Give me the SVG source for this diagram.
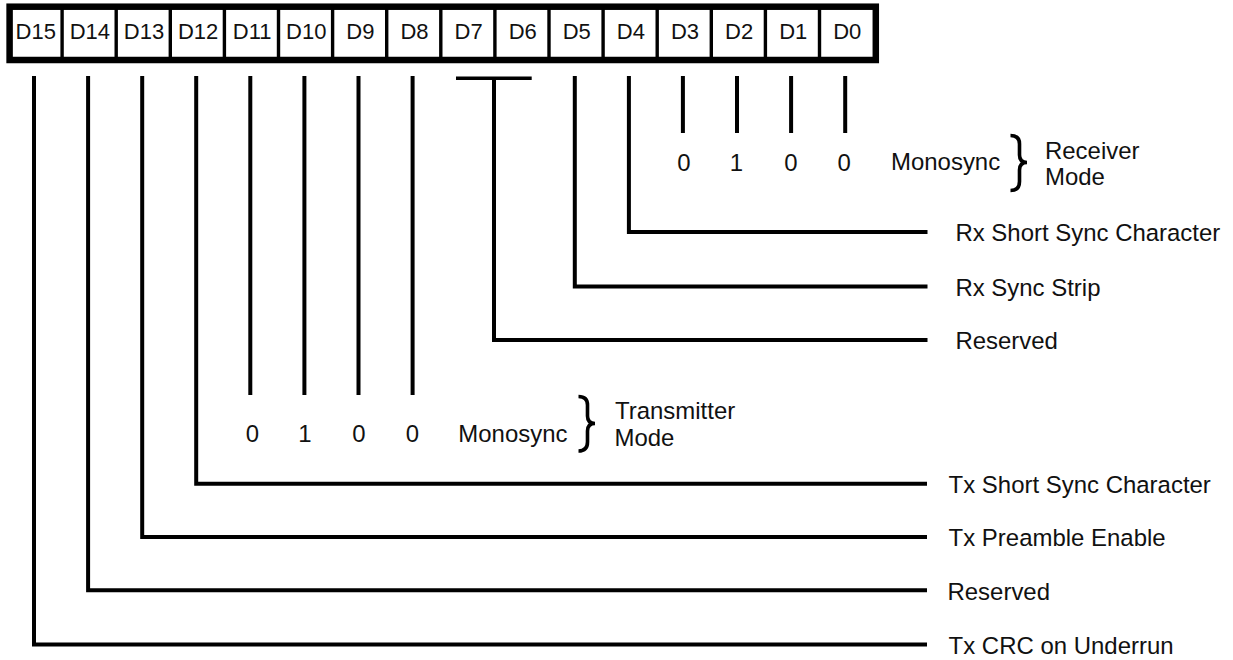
<svg xmlns="http://www.w3.org/2000/svg" width="1233" height="660" viewBox="0 0 1233 660">
<style>
text{font-family:"Liberation Sans",Arial,sans-serif;font-size:23.5px;fill:#111}
.cell text{text-anchor:middle;font-size:22px}
.mid{text-anchor:middle}
.div{stroke:#000;stroke-width:3.4}
.conn{fill:none;stroke:#000;stroke-width:4;stroke-linejoin:miter;stroke-linecap:butt}
.brace{fill:none;stroke:#000;stroke-width:3.6;stroke-linecap:butt}
</style>
<rect width="1233" height="660" fill="#fff"/>
<g id="register">
<rect x="9.6" y="6.7" width="866.2" height="53.3" fill="#fff" stroke="#000" stroke-width="6.5"/>
<g class="dividers">
<line class="div" x1="62.1" y1="8" x2="62.1" y2="58"/>
<line class="div" x1="116.2" y1="8" x2="116.2" y2="58"/>
<line class="div" x1="170.3" y1="8" x2="170.3" y2="58"/>
<line class="div" x1="224.4" y1="8" x2="224.4" y2="58"/>
<line class="div" x1="278.5" y1="8" x2="278.5" y2="58"/>
<line class="div" x1="332.6" y1="8" x2="332.6" y2="58"/>
<line class="div" x1="386.7" y1="8" x2="386.7" y2="58"/>
<line class="div" x1="440.8" y1="8" x2="440.8" y2="58"/>
<line class="div" x1="494.9" y1="8" x2="494.9" y2="58"/>
<line class="div" x1="549" y1="8" x2="549" y2="58"/>
<line class="div" x1="603.1" y1="8" x2="603.1" y2="58"/>
<line class="div" x1="657.2" y1="8" x2="657.2" y2="58"/>
<line class="div" x1="711.3" y1="8" x2="711.3" y2="58"/>
<line class="div" x1="765.4" y1="8" x2="765.4" y2="58"/>
<line class="div" x1="819.5" y1="8" x2="819.5" y2="58"/>
</g>
<g class="cell" id="cell-D15"><text x="35.8" y="38.7">D15</text></g>
<g class="cell" id="cell-D14"><text x="89.9" y="38.7">D14</text></g>
<g class="cell" id="cell-D13"><text x="144" y="38.7">D13</text></g>
<g class="cell" id="cell-D12"><text x="198.1" y="38.7">D12</text></g>
<g class="cell" id="cell-D11"><text x="252.2" y="38.7">D11</text></g>
<g class="cell" id="cell-D10"><text x="306.3" y="38.7">D10</text></g>
<g class="cell" id="cell-D9"><text x="360.4" y="38.7">D9</text></g>
<g class="cell" id="cell-D8"><text x="414.5" y="38.7">D8</text></g>
<g class="cell" id="cell-D7"><text x="468.6" y="38.7">D7</text></g>
<g class="cell" id="cell-D6"><text x="522.7" y="38.7">D6</text></g>
<g class="cell" id="cell-D5"><text x="576.8" y="38.7">D5</text></g>
<g class="cell" id="cell-D4"><text x="630.9" y="38.7">D4</text></g>
<g class="cell" id="cell-D3"><text x="685" y="38.7">D3</text></g>
<g class="cell" id="cell-D2"><text x="739.1" y="38.7">D2</text></g>
<g class="cell" id="cell-D1"><text x="793.2" y="38.7">D1</text></g>
<g class="cell" id="cell-D0"><text x="847.3" y="38.7">D0</text></g>
</g>
<g id="connectors">
<path class="conn" d="M682.9,76 V133"/>
<path class="conn" d="M737,76 V133"/>
<path class="conn" d="M791.1,76 V133"/>
<path class="conn" d="M845.2,76 V133"/>
<path class="conn" d="M628.9,76 V232 H927.5"/>
<path class="conn" d="M574.8,76 V286.5 H927.5"/>
<path class="conn" d="M456,78.3 H531.7" style="stroke-width:3.6"/>
<path class="conn" d="M494,78.3 V340 H927.5"/>
<path class="conn" d="M250.3,76 V395"/>
<path class="conn" d="M304.4,76 V395"/>
<path class="conn" d="M358.5,76 V395"/>
<path class="conn" d="M412.6,76 V395"/>
<path class="conn" d="M196.2,76 V483.7 H927"/>
<path class="conn" d="M142.2,76 V537 H927"/>
<path class="conn" d="M88.1,76 V590.3 H927"/>
<path class="conn" d="M34,76 V644.5 H927"/>
</g>
<g id="rx-mode">
<text class="mid" transform="translate(684,170.5) scale(1.02,1)">0</text>
<text class="mid" transform="translate(736.3,170.5) scale(1.02,1)">1</text>
<text class="mid" transform="translate(790.8,170.5) scale(1.02,1)">0</text>
<text class="mid" transform="translate(844.2,170.5) scale(1.02,1)">0</text>
<text transform="translate(891,169.5) scale(1.02,1)">Monosync</text>
<path class="brace" d="M1010.5,135.5 Q1019.5,135.5 1019.5,144 L1019.5,155 Q1019.5,162.5 1027,162.5 Q1019.5,162.5 1019.5,170 L1019.5,181.5 Q1019.5,190.5 1010.5,190.5"/>
<text transform="translate(1045,158.5) scale(1.02,1)">Receiver</text>
<text transform="translate(1045,185) scale(1.02,1)">Mode</text>
</g>
<g id="tx-mode">
<text class="mid" transform="translate(252.5,441.7) scale(1.02,1)">0</text>
<text class="mid" transform="translate(304.8,441.7) scale(1.02,1)">1</text>
<text class="mid" transform="translate(359,441.7) scale(1.02,1)">0</text>
<text class="mid" transform="translate(412.5,441.7) scale(1.02,1)">0</text>
<text transform="translate(458.3,441.7) scale(1.02,1)">Monosync</text>
<path class="brace" d="M578.5,396.5 Q587.5,396.5 587.5,405 L587.5,416 Q587.5,423.5 595,423.5 Q587.5,423.5 587.5,431 L587.5,442 Q587.5,451 578.5,451"/>
<text transform="translate(615,419) scale(1.02,1)">Transmitter</text>
<text transform="translate(614.5,445.5) scale(1.02,1)">Mode</text>
</g>
<g id="label-rx-short-sync"><text transform="translate(955.4,241) scale(1.02,1)">Rx Short Sync Character</text></g>
<g id="label-rx-sync-strip"><text transform="translate(955.4,295.5) scale(1.02,1)">Rx Sync Strip</text></g>
<g id="label-reserved-d7d6"><text transform="translate(955.4,349) scale(1.02,1)">Reserved</text></g>
<g id="label-tx-short-sync"><text transform="translate(948.6,493) scale(1.02,1)">Tx Short Sync Character</text></g>
<g id="label-tx-preamble"><text transform="translate(948.6,546.2) scale(1.02,1)">Tx Preamble Enable</text></g>
<g id="label-reserved-d14"><text transform="translate(947.5,599.5) scale(1.02,1)">Reserved</text></g>
<g id="label-tx-crc"><text transform="translate(948.6,653.5) scale(1.02,1)">Tx CRC on Underrun</text></g>
</svg>
